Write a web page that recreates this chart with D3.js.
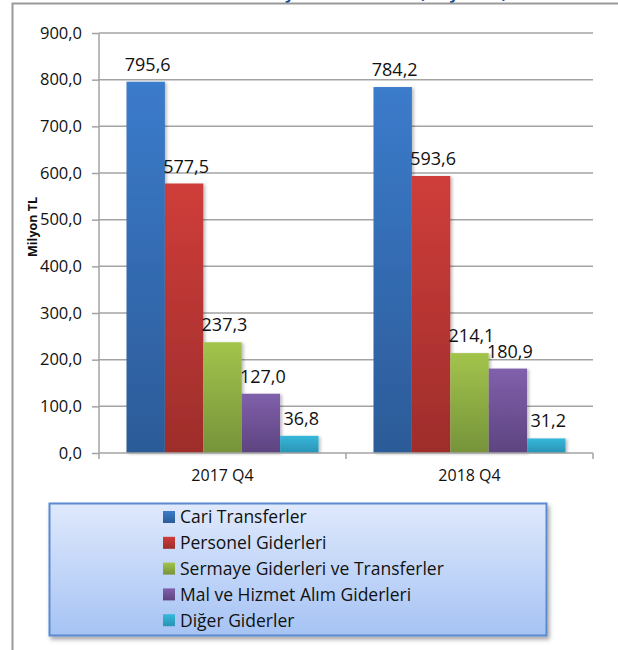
<!DOCTYPE html>
<html>
<head>
<meta charset="utf-8">
<script src="https://cdn.jsdelivr.net/npm/d3@7"></script>
<style>
  body { margin: 0; background: #fff; }
  svg { display: block; font-family: "Open Sans", Lato, sans-serif; }
</style>
</head>
<body>
<svg id="chart" width="618" height="650"></svg>
<script>
var categories = ["2017 Q4", "2018 Q4"];
var seriesNames = ["Cari Transferler", "Personel Giderleri", "Sermaye Giderleri ve Transferler",
                   "Mal ve Hizmet Alım Giderleri", "Diğer Giderler"];
var cariTransferler = [795.6, 784.2];
var personelGiderleri = [577.5, 593.6];
var sermayeGiderleri = [237.3, 214.1];
var malHizmetAlim = [127.0, 180.9];
var digerGiderler = [36.8, 31.2];
var yTicks = [0, 100, 200, 300, 400, 500, 600, 700, 800, 900];

var seriesValues = [cariTransferler, personelGiderleri, sermayeGiderleri, malHizmetAlim, digerGiderler];
var colorsTop = ["#3b7bcb", "#cf3d3a", "#a2c44c", "#8060ab", "#36b7da"];
var colorsBottom = ["#2c5b98", "#9e2d2b", "#76933a", "#5d4480", "#2994b4"];

var svg = d3.select("#chart");
var fmt = function(d) { return d.toFixed(1).replace(".", ","); };

var defs = svg.append("defs");
seriesNames.forEach(function(s, i) {
  var gr = defs.append("linearGradient").attr("id", "grad" + i)
      .attr("x1", 0).attr("y1", 0).attr("x2", 0).attr("y2", 1);
  gr.append("stop").attr("offset", "0%").attr("stop-color", colorsTop[i]);
  gr.append("stop").attr("offset", "100%").attr("stop-color", colorsBottom[i]);
});
var lg = defs.append("linearGradient").attr("id", "legendGrad")
    .attr("x1", 0).attr("y1", 0).attr("x2", 0).attr("y2", 1);
lg.append("stop").attr("offset", "0%").attr("stop-color", "#dfe9fc");
lg.append("stop").attr("offset", "100%").attr("stop-color", "#a6c3f4");
var sh = defs.append("filter").attr("id", "shadow")
    .attr("x", "-10%").attr("y", "-10%").attr("width", "130%").attr("height", "140%");
sh.append("feDropShadow").attr("dx", 2).attr("dy", 3).attr("stdDeviation", 2)
    .attr("flood-color", "#000").attr("flood-opacity", 0.35);
var bsh = defs.append("filter").attr("id", "barShadow")
    .attr("x", "-20%").attr("y", "-5%").attr("width", "150%").attr("height", "110%");
bsh.append("feDropShadow").attr("dx", 2).attr("dy", 1).attr("stdDeviation", 1.5)
    .attr("flood-color", "#000").attr("flood-opacity", 0.25);

// outer frame + title that is cut off at the top
svg.append("text")
    .attr("x", 300).attr("y", -1)
    .attr("text-anchor", "middle")
    .attr("font-size", 16).attr("font-weight", "bold")
    .attr("fill", "#1f4e8c")
    .text("Ekonomik Sınıflandırmaya Göre Giderler (Milyon TL)");
svg.append("path")
    .attr("d", "M12.5,650 L12.5,3.5 L618,3.5")
    .attr("fill", "none").attr("stroke", "#9a9a9a").attr("stroke-width", 2);

var plotLeft = 99, plotRight = 593, plotTop = 33, plotBottom = 453;

var y = d3.scaleLinear().domain([0, 900]).range([plotBottom, plotTop]);
var x0 = d3.scaleBand().domain(categories).range([plotLeft, plotRight]).padding(0);
var x1 = d3.scaleBand().domain(seriesNames).range([0, x0.bandwidth()])
    .paddingInner(0).paddingOuter(0.716);

// gridlines
svg.append("g").selectAll("line")
  .data(yTicks.slice(1))
  .enter().append("line")
    .attr("x1", plotLeft).attr("x2", plotRight)
    .attr("y1", function(d) { return y(d); })
    .attr("y2", function(d) { return y(d); })
    .attr("stroke", "#a3a3a3").attr("stroke-width", 1.5);

// bars
var groups = svg.append("g").selectAll("g")
  .data(categories)
  .enter().append("g")
    .attr("transform", function(c) { return "translate(" + x0(c) + ",0)"; });

var rows = function(c, ci) {
  return seriesNames.map(function(s, si) { return {s: s, i: si, v: seriesValues[si][ci]}; });
};

groups.selectAll("rect")
  .data(rows)
  .enter().append("rect")
    .attr("x", function(d) { return x1(d.s); })
    .attr("width", x1.bandwidth())
    .attr("y", function(d) { return y(d.v); })
    .attr("height", function(d) { return y(0) - y(d.v); })
    .attr("fill", function(d) { return "url(#grad" + d.i + ")"; })
    .attr("filter", "url(#barShadow)");

groups.selectAll("text")
  .data(rows)
  .enter().append("text")
    .attr("x", function(d) { return x1(d.s) + x1.bandwidth() / 2 + 2; })
    .attr("y", function(d) { return y(d.v) - 11; })
    .attr("text-anchor", "middle")
    .attr("font-size", 18)
    .attr("fill", "#111")
    .text(function(d) { return fmt(d.v); });

// y axis
var yAxis = svg.append("g")
    .attr("transform", "translate(" + plotLeft + ",0)")
    .call(d3.axisLeft(y).tickValues(yTicks).tickSize(7).tickPadding(10).tickFormat(fmt));
yAxis.select(".domain").attr("stroke", "#a3a3a3").attr("stroke-width", 1.5)
    .attr("d", "M0," + plotBottom + "V" + plotTop);
yAxis.selectAll(".tick line").attr("stroke", "#a3a3a3").attr("stroke-width", 1.5);
yAxis.selectAll(".tick text").attr("font-size", 16.5).attr("font-family", "Open Sans").attr("fill", "#111");

// x axis
var xAxis = svg.append("g")
    .attr("transform", "translate(0," + plotBottom + ")")
    .call(d3.axisBottom(x0).tickSize(0).tickPadding(17));
xAxis.select(".domain").attr("stroke", "#a3a3a3").attr("stroke-width", 1.5)
    .attr("d", "M" + plotLeft + ",0H" + plotRight);
xAxis.selectAll(".tick text").attr("font-size", 16).attr("font-family", "Open Sans").attr("fill", "#111");
xAxis.selectAll(".bound")
  .data(categories.map(function(c) { return x0(c); }).concat([plotRight]))
  .enter().append("line")
    .attr("class", "bound")
    .attr("x1", function(d) { return d; }).attr("x2", function(d) { return d; })
    .attr("y1", 0).attr("y2", 6)
    .attr("stroke", "#a3a3a3").attr("stroke-width", 1.5);

// y axis title
svg.append("text")
    .attr("transform", "translate(37,227) rotate(-90)")
    .attr("text-anchor", "middle")
    .attr("font-size", 12.5).attr("font-weight", "bold")
    .attr("fill", "#111")
    .text("Milyon TL");

// legend
var legend = svg.append("g");
legend.append("rect")
    .attr("x", 49.5).attr("y", 503.5).attr("width", 497).attr("height", 132)
    .attr("fill", "url(#legendGrad)")
    .attr("stroke", "#5a8ad0").attr("stroke-width", 2)
    .attr("filter", "url(#shadow)");
var items = legend.selectAll(".item")
  .data(seriesNames)
  .enter().append("g")
    .attr("class", "item")
    .attr("transform", function(d, i) { return "translate(163," + (517 + i * 25.8) + ")"; });
items.append("rect")
    .attr("x", 0).attr("y", -6).attr("width", 12).attr("height", 12)
    .attr("fill", function(d, i) { return "url(#grad" + i + ")"; });
items.append("text")
    .attr("x", 17).attr("dy", "0.36em")
    .attr("font-size", 17.5).attr("fill", "#111")
    .text(function(d) { return d; });
</script>
</body>
</html>
